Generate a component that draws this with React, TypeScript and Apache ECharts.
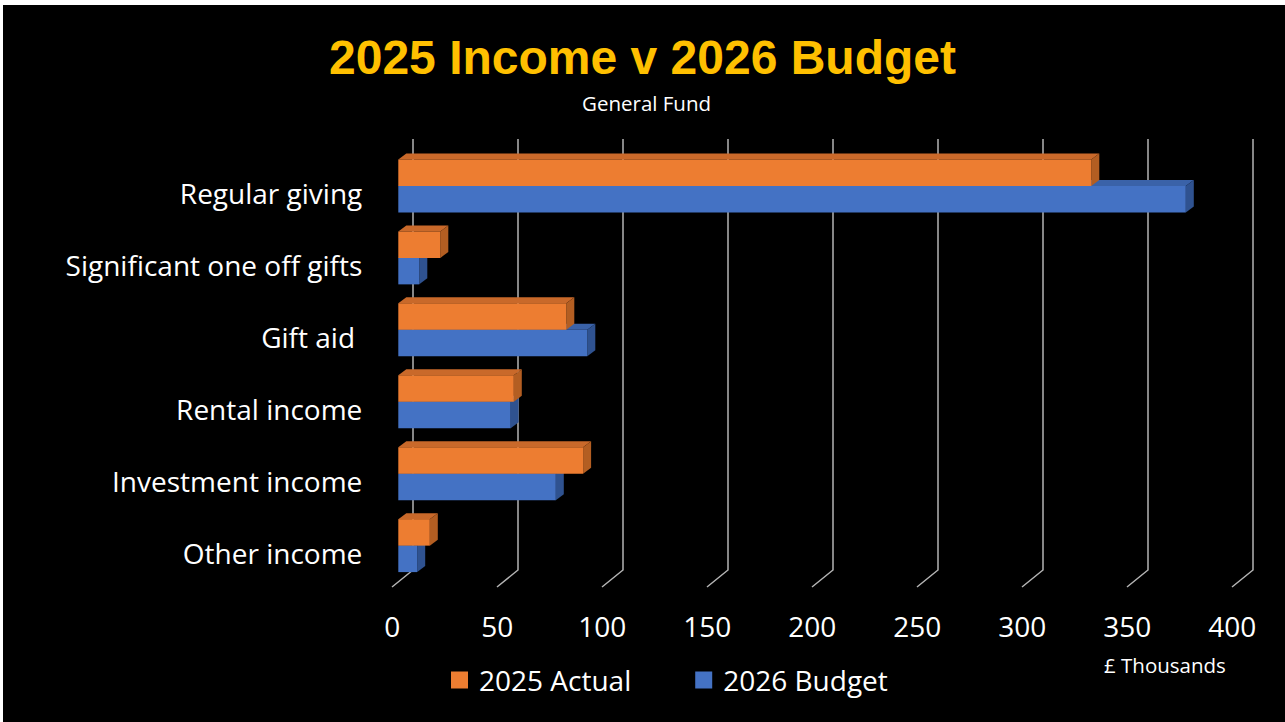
import React, { useEffect, useRef } from "react";
import * as echarts from "echarts";

const categories = [
  "Regular giving",
  "Significant one off gifts",
  "Gift aid ",
  "Rental income",
  "Investment income",
  "Other income",
];
const actual2025 = [330, 20, 80, 55, 88, 15];
const budget2026 = [375, 10, 90, 53.5, 75, 9];
const xTicks = [0, 50, 100, 150, 200, 250, 300, 350, 400];
const seriesNames = ["2025 Actual", "2026 Budget"];

const ORANGE = { front: "#ED7D31", top: "#C9692A", side: "#B35E22" };
const BLUE = { front: "#4472C4", top: "#3A62A8", side: "#2F5290" };

const FONT = "'Open Sans', Lato, sans-serif";

function barRenderer(slot: number, col: { front: string; top: string; side: string }) {
  return (params: any, api: any) => {
    const cat = api.value(0);
    const val = api.value(1);
    const base = api.coord([0, cat]);
    const end = api.coord([val, cat]);
    const band = api.size([0, 1])[1];
    const th = band * 0.368;
    const cy = base[1];
    const y0 = slot === 0 ? cy - th : cy;
    const y1 = y0 + th;
    const x0 = base[0];
    const x1 = end[0];
    const dx = 8;
    const dy = -6;
    return {
      type: "group",
      children: [
        {
          type: "polygon",
          shape: { points: [[x0, y0], [x1, y0], [x1 + dx, y0 + dy], [x0 + dx, y0 + dy]] },
          style: { fill: col.top },
        },
        {
          type: "polygon",
          shape: { points: [[x1, y0], [x1, y1], [x1 + dx, y1 + dy], [x1 + dx, y0 + dy]] },
          style: { fill: col.side },
        },
        {
          type: "rect",
          shape: { x: x0, y: y0, width: x1 - x0, height: th },
          style: { fill: col.front },
        },
      ],
    };
  };
}

function gridRenderer(params: any, api: any) {
  const v = api.value(0);
  const x = api.coord([v, 0])[0];
  const cs = params.coordSys;
  const top = cs.y - 11;
  const bottom = cs.y + cs.height - 11.6;
  const backX = x + 14.7;
  return {
    type: "polyline",
    shape: { points: [[backX, top], [backX, bottom], [backX - 21, bottom + 17]] },
    style: { stroke: "#b4b4b4", lineWidth: 1.5, fill: "none" },
  };
}

export default function App() {
  const ref = useRef<HTMLDivElement>(null);
  useEffect(() => {
    document.body.style.margin = "0";
    const chart = echarts.init(ref.current!, undefined, { renderer: "svg" });
    chart.setOption({
      animation: false,
      backgroundColor: "#000000",
      title: [
        {
          text: "2025 Income v 2026 Budget",
          left: "center",
          top: 28,
          textStyle: {
            color: "#FFC000",
            fontSize: 48,
            fontWeight: "bold",
            fontFamily: "'Liberation Sans', Arial, sans-serif",
          },
        },
        {
          text: "General Fund",
          left: 577,
          top: 87,
          textStyle: { color: "#ffffff", fontSize: 20.5, fontWeight: "normal", fontFamily: FONT },
        },
        {
          text: "£ Thousands",
          left: 1099,
          top: 649,
          textStyle: { color: "#ffffff", fontSize: 20.5, fontWeight: "normal", fontFamily: FONT },
        },
      ],
      legend: {
        data: seriesNames,
        left: 446,
        top: 659,
        icon: "rect",
        itemWidth: 17,
        itemHeight: 17,
        itemGap: 64,
        textStyle: { color: "#ffffff", fontSize: 28, fontFamily: FONT, lineHeight: 32, padding: [0, 0, 0, 6] },
      },
      grid: { left: 398.3, right: 46.7, top: 150, bottom: 140.4 },
      xAxis: {
        type: "value",
        min: 0,
        max: 400,
        interval: 50,
        axisLine: { show: false },
        axisTick: { show: false },
        splitLine: { show: false },
        axisLabel: {
          color: "#ffffff",
          fontSize: 28,
          fontFamily: FONT,
          margin: 30,
          padding: [0, 12, 0, 0],
        },
      },
      yAxis: {
        type: "category",
        data: categories,
        inverse: true,
        axisLine: { show: false },
        axisTick: { show: false },
        splitLine: { show: false },
        axisLabel: {
          margin: 36,
          formatter: (v: string) => "{a|" + v + "}",
          rich: {
            a: {
              color: "#ffffff",
              fontSize: 28,
              fontFamily: FONT,
              lineHeight: 32,
              padding: [14, 0, 0, 0],
            },
          },
        },
      },
      series: [
        {
          type: "custom",
          name: "gridlines",
          renderItem: gridRenderer,
          data: xTicks.map((v) => [v]),
          encode: { x: 0 },
          clip: false,
          silent: true,
          z: 1,
        },
        {
          type: "custom",
          name: seriesNames[1],
          renderItem: barRenderer(1, BLUE),
          data: categories.map((_, i) => [i, budget2026[i]]),
          encode: { x: 1, y: 0 },
          itemStyle: { color: BLUE.front },
          clip: false,
          z: 2,
        },
        {
          type: "custom",
          name: seriesNames[0],
          renderItem: barRenderer(0, ORANGE),
          data: categories.map((_, i) => [i, actual2025[i]]),
          encode: { x: 1, y: 0 },
          itemStyle: { color: ORANGE.front },
          clip: false,
          z: 3,
        },
      ],
      graphic: [
        { type: "rect", shape: { x: 0, y: 0, width: 1285, height: 5 }, style: { fill: "#ffffff" }, silent: true },
        { type: "rect", shape: { x: 0, y: 0, width: 3, height: 722 }, style: { fill: "#ffffff" }, silent: true },
      ],
    });
    return () => chart.dispose();
  }, []);
  return (
    <div style={{ position: "fixed", left: 0, top: 0, width: 1285, height: 722 }}>
      <div ref={ref} style={{ width: 1285, height: 722 }} />
    </div>
  );
}
